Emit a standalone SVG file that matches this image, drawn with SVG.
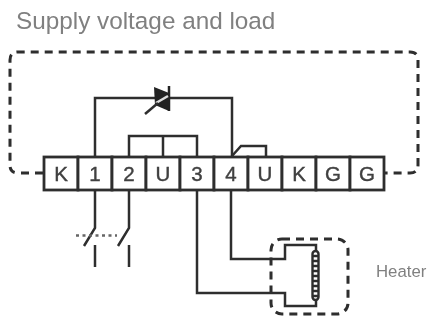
<svg xmlns="http://www.w3.org/2000/svg" width="430" height="321" viewBox="0 0 430 321">
<defs><filter id="soft" x="-5%" y="-5%" width="110%" height="110%"><feGaussianBlur stdDeviation="0.5"/></filter></defs>
<style>
.w{fill:none;stroke:#2e2e2e;stroke-width:2.500}
.d{fill:none;stroke:#2e2e2e;stroke-width:3;stroke-dasharray:8 6}
.c{fill:#fff;stroke:#2e2e2e;stroke-width:2.800}
.t{font-family:"Liberation Sans",Arial,sans-serif;font-size:20.500px;fill:#404040;text-anchor:middle;stroke:#404040;stroke-width:0.400}
.l{font-family:"Liberation Sans",Arial,sans-serif;fill:#808080}
</style>
<rect width="430" height="321" fill="#fff"/>
<g filter="url(#soft)">
<text id="title" class="l" x="16" y="29" font-size="24.300">Supply voltage and load</text>
<g id="connectors">
<path class="d" d="M43 173H18Q10 173 10 165V60Q10 52 18 52H410Q418 52 418 60V165Q418 173 410 173H385"/>
<path class="w" d="M95 157V98H232V157"/>
<path class="w" d="M129 157V136H197V157M163 136V157"/>
<path class="w" d="M232 156L241 146H266V157"/>
<path class="w" d="M95 190V228L84 246M95 245V267M129 190V228L118 246M129 245V267"/>
<path class="w" stroke-dasharray="3 3.500" d="M76 235.500H117" style="stroke:#666"/>
<path class="w" d="M197 190V293H285V306H316V298"/>
<path class="w" d="M231 190V259H285V245H316V253"/>
</g>
<g id="triac">
<path d="M154 87L169 93V111L155 105Z" fill="#222"/>
<path d="M169 86V111" fill="none" stroke="#222" stroke-width="2.500"/>
<path d="M156 103L168 96" fill="none" stroke="#ddd" stroke-width="2.500"/>
<path d="M145 114L158 103" fill="none" stroke="#2e2e2e" stroke-width="2.500"/>
</g>
<g id="terminals">
<g id="tK"><rect class="c" x="44" y="157" width="34" height="33"/><text class="t" x="61" y="181">K</text></g>
<g id="t1"><rect class="c" x="78" y="157" width="34" height="33"/><text class="t" x="95" y="181">1</text></g>
<g id="t2"><rect class="c" x="112" y="157" width="34" height="33"/><text class="t" x="129" y="181">2</text></g>
<g id="tU1"><rect class="c" x="146" y="157" width="34" height="33"/><text class="t" x="163" y="181">U</text></g>
<g id="t3"><rect class="c" x="180" y="157" width="34" height="33"/><text class="t" x="197" y="181">3</text></g>
<g id="t4"><rect class="c" x="214" y="157" width="34" height="33"/><text class="t" x="231" y="181">4</text></g>
<g id="tU2"><rect class="c" x="248" y="157" width="34" height="33"/><text class="t" x="265" y="181">U</text></g>
<g id="tK2"><rect class="c" x="282" y="157" width="34" height="33"/><text class="t" x="299" y="181">K</text></g>
<g id="tG1"><rect class="c" x="316" y="157" width="34" height="33"/><text class="t" x="333" y="181">G</text></g>
<g id="tG2"><rect class="c" x="350" y="157" width="34" height="33"/><text class="t" x="367" y="181">G</text></g>
</g>
<g id="heater">
<rect class="d" x="271" y="239" width="77" height="75" rx="11"/>
<rect x="312.500" y="251" width="6" height="49" rx="3" fill="#fff" stroke="#2e2e2e" stroke-width="2.400"/>
<path d="M312 256H319M312 261H319M312 266H319M312 271H319M312 276H319M312 281H319M312 286H319M312 291H319M312 296H319" stroke="#2e2e2e" stroke-width="2.400"/>
<text class="l" x="376" y="277" font-size="16.800">Heater</text>
</g>
</g>
</svg>
